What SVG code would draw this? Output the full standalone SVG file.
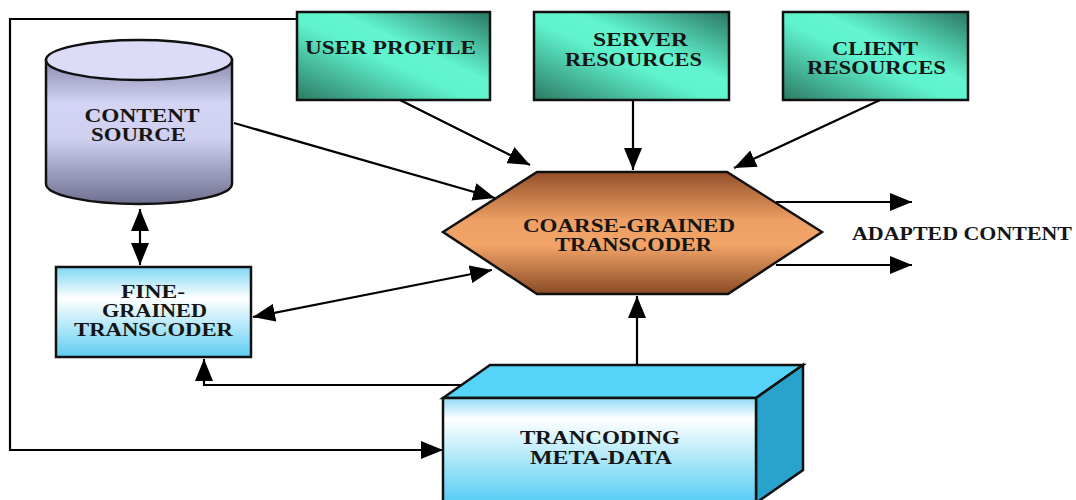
<svg xmlns="http://www.w3.org/2000/svg" width="1076" height="500" viewBox="0 0 1076 500">
<defs>
<linearGradient id="teal" x1="0" y1="1" x2="1" y2="0">
<stop offset="0" stop-color="#2c7a63"/>
<stop offset="0.45" stop-color="#5ff3cd"/>
<stop offset="0.6" stop-color="#62f5d0"/>
<stop offset="1" stop-color="#2a7661"/>
</linearGradient>
<linearGradient id="cylBody" x1="0" y1="0" x2="0" y2="1">
<stop offset="0" stop-color="#8a8ab0"/>
<stop offset="0.3" stop-color="#d4d4f4"/>
<stop offset="0.55" stop-color="#cfcff0"/>
<stop offset="1" stop-color="#6e6e8e"/>
</linearGradient>
<linearGradient id="hexGrad" x1="0" y1="0" x2="0" y2="1">
<stop offset="0" stop-color="#93502a"/>
<stop offset="0.4" stop-color="#eea064"/>
<stop offset="0.6" stop-color="#f2a468"/>
<stop offset="1" stop-color="#8a4a24"/>
</linearGradient>
<linearGradient id="blueGrad" x1="0" y1="0" x2="0" y2="1">
<stop offset="0" stop-color="#7fd6f4"/>
<stop offset="0.35" stop-color="#ffffff"/>
<stop offset="1" stop-color="#5ecdf3"/>
</linearGradient>
<linearGradient id="cubeFront" x1="0" y1="0" x2="0" y2="1">
<stop offset="0" stop-color="#8fdcf6"/>
<stop offset="0.2" stop-color="#ffffff"/>
<stop offset="1" stop-color="#55cdf4"/>
</linearGradient>
<marker id="ah" viewBox="0 0 22 18" refX="22" refY="9" markerWidth="22" markerHeight="18" markerUnits="userSpaceOnUse" orient="auto-start-reverse">
<path d="M0,0 L22,9 L0,18 z" fill="#000"/>
</marker>
<style>
.box{stroke:#111;stroke-width:2.5}
.lbl{font-family:"Liberation Serif","Times New Roman",serif;font-weight:bold;font-size:19px;fill:#151515;text-anchor:middle}
.con{fill:none;stroke:#000;stroke-width:2.2}
</style>
</defs>
<rect width="1076" height="500" fill="#fff"/>

<g id="content-source">
<path class="box" d="M46,60 L46,184 A93,20 0 0 0 232,184 L232,60 Z" fill="url(#cylBody)"/>
<ellipse class="box" cx="139" cy="60" rx="93" ry="20" fill="#dcdcf8"/>
<text class="lbl" x="142" y="122" textLength="115" lengthAdjust="spacingAndGlyphs">CONTENT</text>
<text class="lbl" x="138.5" y="141" textLength="95" lengthAdjust="spacingAndGlyphs">SOURCE</text>
</g>

<g id="user-profile">
<rect class="box" x="297" y="12" width="193" height="88" fill="url(#teal)"/>
<text class="lbl" x="390.5" y="54" textLength="171" lengthAdjust="spacingAndGlyphs">USER PROFILE</text>
</g>

<g id="server-resources">
<rect class="box" x="534" y="12" width="195" height="88" fill="url(#teal)"/>
<text class="lbl" x="640.5" y="46" textLength="95" lengthAdjust="spacingAndGlyphs">SERVER</text>
<text class="lbl" x="633.5" y="66" textLength="137" lengthAdjust="spacingAndGlyphs">RESOURCES</text>
</g>

<g id="client-resources">
<rect class="box" x="783" y="12" width="185" height="88" fill="url(#teal)"/>
<text class="lbl" x="875" y="55" textLength="86" lengthAdjust="spacingAndGlyphs">CLIENT</text>
<text class="lbl" x="876.5" y="74" textLength="139" lengthAdjust="spacingAndGlyphs">RESOURCES</text>
</g>

<g id="coarse-grained-transcoder">
<polygon class="box" points="443,232 537,172 727,172 822,232 728,294 537,294" fill="url(#hexGrad)"/>
<text class="lbl" x="629" y="232" textLength="212" lengthAdjust="spacingAndGlyphs">COARSE-GRAINED</text>
<text class="lbl" x="633.5" y="251" textLength="157" lengthAdjust="spacingAndGlyphs">TRANSCODER</text>
</g>

<g id="fine-grained-transcoder">
<rect class="box" x="56" y="267" width="195" height="90" fill="url(#blueGrad)"/>
<text class="lbl" x="153" y="298" textLength="64" lengthAdjust="spacingAndGlyphs">FINE-</text>
<text class="lbl" x="154.5" y="317" textLength="105" lengthAdjust="spacingAndGlyphs">GRAINED</text>
<text class="lbl" x="153.5" y="336" textLength="159" lengthAdjust="spacingAndGlyphs">TRANSCODER</text>
</g>

<g id="transcoding-meta-data">
<polygon class="box" points="443,398 490,365 803,365 756,398" fill="#56d3f8"/>
<polygon class="box" points="756,398 803,365 803,470 756,503" fill="#2aa3cc"/>
<rect class="box" x="443" y="398" width="313" height="105" fill="url(#cubeFront)"/>
<text class="lbl" x="600" y="444" textLength="160" lengthAdjust="spacingAndGlyphs">TRANCODING</text>
<text class="lbl" x="601" y="464" textLength="142" lengthAdjust="spacingAndGlyphs">META-DATA</text>
</g>

<g id="adapted-content">
<text class="lbl" x="962" y="240" textLength="220" lengthAdjust="spacingAndGlyphs">ADAPTED CONTENT</text>
</g>

<g id="connectors">
<path class="con" d="M297,19 L10,19 L10,450 L443,450" marker-end="url(#ah)"/>
<line class="con" x1="400" y1="100" x2="530" y2="165" marker-end="url(#ah)"/>
<line class="con" x1="633" y1="100" x2="633" y2="170" marker-end="url(#ah)"/>
<line class="con" x1="880" y1="100" x2="734" y2="168" marker-end="url(#ah)"/>
<line class="con" x1="234" y1="123" x2="495" y2="198" marker-end="url(#ah)"/>
<line class="con" x1="140" y1="209" x2="140" y2="265" marker-start="url(#ah)" marker-end="url(#ah)"/>
<line class="con" x1="253" y1="317" x2="492" y2="270" marker-start="url(#ah)" marker-end="url(#ah)"/>
<path class="con" d="M461,385 L204,385 L204,359" marker-end="url(#ah)"/>
<line class="con" x1="637" y1="365" x2="637" y2="296" marker-end="url(#ah)"/>
<line class="con" x1="776" y1="202" x2="912" y2="202" marker-end="url(#ah)"/>
<line class="con" x1="776" y1="265" x2="912" y2="265" marker-end="url(#ah)"/>
</g>
</svg>
